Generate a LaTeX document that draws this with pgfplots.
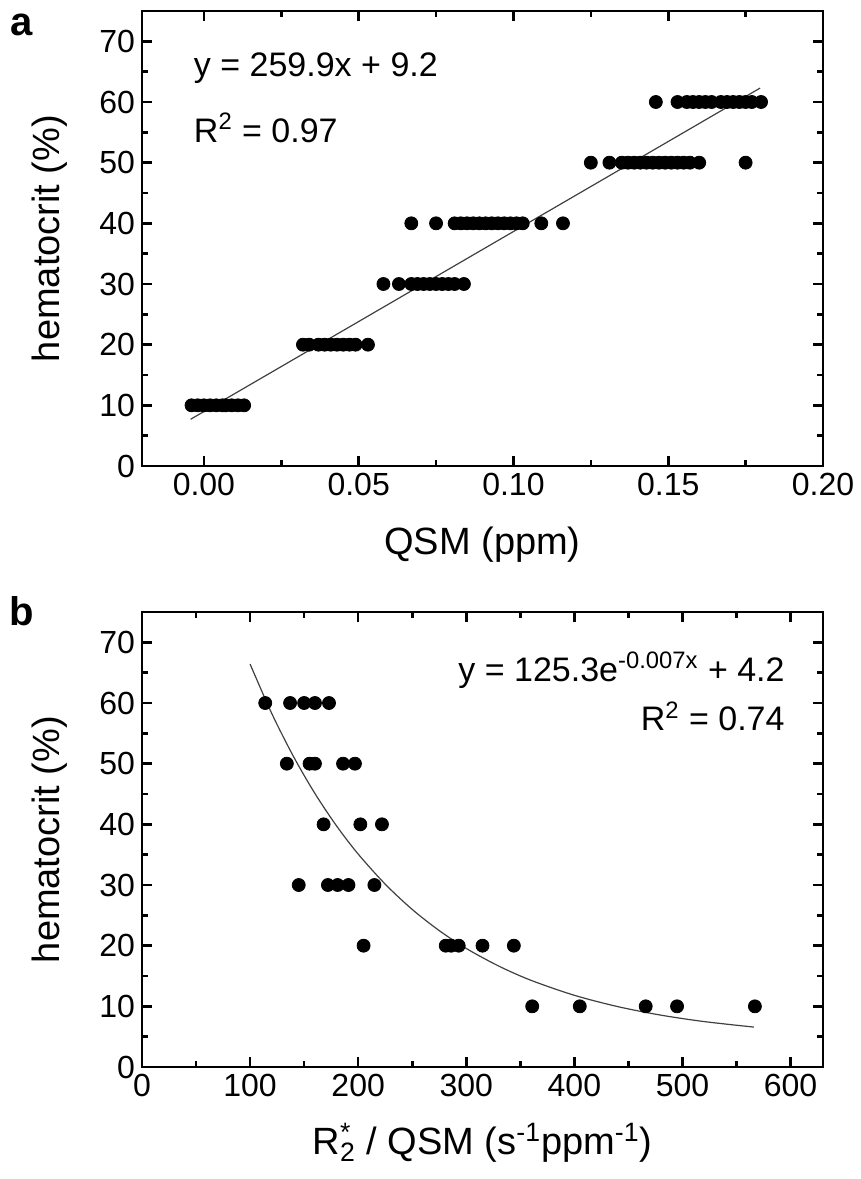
\documentclass[border=0pt]{standalone}
\usepackage{fontspec}
\setmainfont{Liberation Sans}
\usepackage{pgfplots}
\pgfplotsset{compat=1.18}
\begin{document}
\begin{tikzpicture}
\path[use as bounding box] (-71pt,5.5pt) rectangle (359.5pt,-584pt);
\pgfplotsset{
  myaxis/.style={
    scale only axis, width=340.5pt, height=227.5pt,
    axis line style={line width=1.3pt},
    every tick/.style={line width=1.3pt, black},
    major tick length=5pt, minor tick length=2.8pt,
    tick label style={font=\fontsize{16}{16}\selectfont},
    label style={font=\fontsize{19}{19}\selectfont},
    /pgf/number format/assume math mode=true,
    ymin=0, ymax=75, ytick={0,10,20,30,40,50,60,70}, minor y tick num=1,
    ylabel style={at={(axis description cs:-0.135,0.5)}, anchor=center},
    dot/.style={only marks, mark=*, mark size=3.25pt, black},
  }
}
% ---------- panel a ----------
\begin{axis}[myaxis, at={(0pt,0pt)}, anchor=north west,
  xmin=-0.02, xmax=0.2, xtick={0,0.05,0.1,0.15,0.2}, minor x tick num=1,
  xticklabel style={/pgf/number format/.cd, fixed, fixed zerofill, precision=2},
  xlabel={QSM (ppm)}, ylabel={hematocrit (\%)},
  xlabel style={at={(axis description cs:0.5,0)}, anchor=center, yshift=-39.5pt}]
\addplot[dot] coordinates {
 (-0.004,10) (-0.002,10) (0.000,10) (0.002,10) (0.004,10) (0.006,10) (0.007,10) (0.009,10) (0.011,10) (0.013,10)
 (0.032,20) (0.034,20) (0.037,20) (0.039,20) (0.041,20) (0.043,20) (0.045,20) (0.047,20) (0.049,20) (0.053,20)
 (0.058,30) (0.063,30) (0.067,30) (0.069,30) (0.071,30) (0.073,30) (0.075,30) (0.077,30) (0.079,30) (0.081,30) (0.084,30)
 (0.067,40) (0.075,40) (0.081,40) (0.083,40) (0.085,40) (0.087,40) (0.089,40) (0.091,40) (0.093,40) (0.095,40) (0.097,40) (0.099,40) (0.101,40) (0.103,40) (0.109,40) (0.116,40)
 (0.125,50) (0.131,50) (0.135,50) (0.137,50) (0.139,50) (0.141,50) (0.143,50) (0.145,50) (0.147,50) (0.149,50) (0.151,50) (0.153,50) (0.155,50) (0.157,50) (0.160,50) (0.175,50)
 (0.146,60) (0.153,60) (0.156,60) (0.158,60) (0.160,60) (0.162,60) (0.164,60) (0.167,60) (0.169,60) (0.171,60) (0.173,60) (0.175,60) (0.177,60) (0.180,60)
};
\addplot[line width=0.6pt, color=black!75, no marks] coordinates {(-0.0043,7.7) (0.1797,62.3)};
\node[anchor=west, font=\fontsize{17}{17}\selectfont] at (axis cs:-0.0055,65.6) {y = 259.9x + 9.2};
\node[anchor=west, font=\fontsize{17}{17}\selectfont] at (axis cs:-0.0055,55.7) {R\textsuperscript{2} = 0.97};
\end{axis}
\node[anchor=base, font=\bfseries\fontsize{20}{20}\selectfont] at (-60pt,-12pt) {a};
% ---------- panel b ----------
\begin{axis}[myaxis, at={(0pt,-300.5pt)}, anchor=north west,
  xmin=0, xmax=630, xtick={0,100,200,300,400,500,600}, minor x tick num=1,
  xlabel={R\rlap{\textsuperscript{*}}\textsubscript{2} / QSM (s\textsuperscript{-1}ppm\textsuperscript{-1})},
  ylabel={hematocrit (\%)},
  xlabel style={at={(axis description cs:0.5,0)}, anchor=center, yshift=-38pt}]
\addplot[dot] coordinates {
 (114,60) (137,60) (150,60) (160,60) (173,60)
 (134,50) (155,50) (160,50) (186,50) (197,50)
 (168,40) (202,40) (222,40)
 (145,30) (172,30) (181,30) (191,30) (215,30)
 (205,20) (281,20) (286,20) (293,20) (315,20) (344,20)
 (361,10) (405,10) (466,10) (495,10) (567,10)
};
\addplot[line width=0.6pt, color=black!75, no marks, smooth] coordinates {
 (100,66.42) (120,58.29) (140,51.23) (160,45.08) (180,39.74) (200,35.10) (225,30.14)
 (250,25.97) (275,22.48) (300,19.54) (330,16.64) (360,14.28) (400,11.82) (440,9.96)
 (480,8.55) (520,7.49) (566,6.58)
};
\node[anchor=east, font=\fontsize{17}{17}\selectfont] at (axis cs:601,65.4) {y = 125.3e\textsuperscript{-0.007x} + 4.2};
\node[anchor=east, font=\fontsize{17}{17}\selectfont] at (axis cs:601,57.8) {R\textsuperscript{2} = 0.74};
\end{axis}
\node[anchor=base, font=\bfseries\fontsize{20}{20}\selectfont] at (-60pt,-307pt) {b};
\end{tikzpicture}
\end{document}
